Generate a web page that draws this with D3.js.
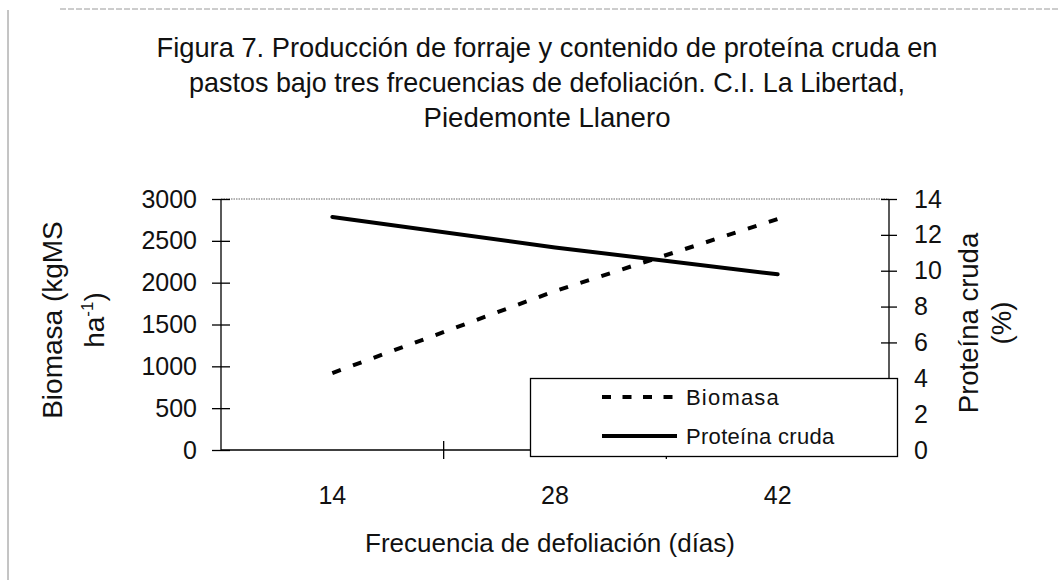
<!DOCTYPE html>
<html>
<head>
<meta charset="utf-8">
<script src="https://cdn.jsdelivr.net/npm/d3@7"></script>
<style>
  html, body { margin: 0; padding: 0; background: #fff; }
  svg { display: block; font-family: "Liberation Sans", Arial, sans-serif; }
</style>
</head>
<body>
<svg id="chart" width="1060" height="580"></svg>
<script>
// Defoliation frequency (days)
const categories = ["14", "28", "42"];
// Forage biomass (kg DM/ha)
const biomasa = [920, 1900, 2760];
// Crude protein (%)
const proteina = [13.0, 11.3, 9.8];
// Axis ticks
const leftTicks = [0, 500, 1000, 1500, 2000, 2500, 3000];
const rightTicks = [0, 2, 4, 6, 8, 10, 12, 14];
const titleLines = [
  "Figura 7. Producción de forraje y contenido de proteína cruda en",
  "pastos bajo tres frecuencias de defoliación. C.I. La Libertad,",
  "Piedemonte Llanero"
];

const svg = d3.select("#chart");
const plot = { left: 221, right: 889, top: 199, bottom: 450 };

const x = d3.scaleBand().domain(categories).range([plot.left, plot.right]).paddingInner(0).paddingOuter(0);
const yL = d3.scaleLinear().domain([0, 3000]).range([plot.bottom, plot.top]);
const yR = d3.scaleLinear().domain([0, 14]).range([plot.bottom, plot.top]);
const cx = c => x(c) + x.bandwidth() / 2;

// page frame
svg.append("line").attr("x1", 8).attr("x2", 8).attr("y1", 10).attr("y2", 580)
  .attr("stroke", "#8a8a8a").attr("stroke-width", 1);
svg.append("line").attr("x1", 60).attr("x2", 1060).attr("y1", 9).attr("y2", 9)
  .attr("stroke", "#9a9a9a").attr("stroke-width", 1).attr("stroke-dasharray", "6,2");

// title (condensed face)
const title = svg.append("g").attr("font-size", 28).attr("fill", "#111").attr("text-anchor", "middle");
const titleWidths = [781, 716, 247];
titleLines.forEach((t, i) => {
  title.append("text")
    .attr("x", 547).attr("y", 57 + i * 35)
    .attr("textLength", titleWidths[i]).attr("lengthAdjust", "spacingAndGlyphs")
    .text(t);
});

// top border of plot area
svg.append("line").attr("x1", plot.left).attr("x2", plot.right).attr("y1", plot.top).attr("y2", plot.top)
  .attr("stroke", "#666").attr("stroke-width", 1).attr("stroke-dasharray", "1.5,1");

// left axis
const gL = svg.append("g").attr("transform", `translate(${plot.left},0)`)
  .call(d3.axisLeft(yL).tickValues(leftTicks).tickSize(9).tickPadding(15).tickFormat(d3.format("d")));
gL.selectAll(".tick line").attr("x1", -9).attr("x2", 9);
gL.select(".domain").attr("d", `M0,${plot.top}V${plot.bottom}`);

// right axis
const gR = svg.append("g").attr("transform", `translate(${plot.right},0)`)
  .call(d3.axisRight(yR).tickValues(rightTicks).tickSize(8).tickPadding(17).tickFormat(d3.format("d")));
gR.selectAll(".tick line").attr("x1", -8).attr("x2", 8);
gR.select(".domain").attr("d", `M0,${plot.top}V${plot.bottom}`);

// bottom axis: labels at category centres, ticks between categories
const gB = svg.append("g").attr("transform", `translate(0,${plot.bottom})`)
  .call(d3.axisBottom(x).tickSize(0).tickPadding(36));
gB.select(".domain").attr("d", `M${plot.left},0H${plot.right}`);
gB.selectAll(".tickmark").data(categories.slice(1)).join("line")
  .attr("class", "tickmark")
  .attr("x1", d => x(d)).attr("x2", d => x(d)).attr("y1", -9).attr("y2", 9)
  .attr("stroke", "#000").attr("stroke-width", 1.3);

[gL, gR, gB].forEach(g => {
  g.attr("font-family", null).attr("font-size", null);
  g.selectAll("text").attr("font-size", 25).attr("fill", "#111");
  g.selectAll(".domain, .tick line").attr("stroke", "#000").attr("stroke-width", 1.3);
});

// series
const lineL = d3.line().x((d, i) => cx(categories[i])).y(d => yL(d));
const lineR = d3.line().x((d, i) => cx(categories[i])).y(d => yR(d));

svg.append("path").datum(proteina).attr("d", lineR)
  .attr("fill", "none").attr("stroke", "#000").attr("stroke-width", 4).attr("stroke-linecap", "round");
svg.append("path").datum(biomasa).attr("d", lineL)
  .attr("fill", "none").attr("stroke", "#000").attr("stroke-width", 4)
  .attr("stroke-dasharray", "9,13");

// legend
const lg = svg.append("g");
lg.append("rect").attr("x", 530.5).attr("y", 378.5).attr("width", 367).attr("height", 78)
  .attr("fill", "#fff").attr("stroke", "#000").attr("stroke-width", 1.3);
const items = [
  { name: "Biomasa", dash: "9,11.5" },
  { name: "Proteína cruda", dash: null }
];
items.forEach((it, i) => {
  const yy = 397 + i * 39;
  lg.append("line").attr("x1", 602).attr("x2", 677).attr("y1", yy).attr("y2", yy)
    .attr("stroke", "#000").attr("stroke-width", 4)
    .attr("stroke-dasharray", it.dash);
  lg.append("text").attr("x", 686).attr("y", yy + 7.5).attr("font-size", 22)
    .attr("letter-spacing", i === 0 ? 1.2 : 0.3).attr("fill", "#111").text(it.name);
});

// axis titles
const yTitleL = svg.append("g").attr("font-size", 28).attr("fill", "#111").attr("text-anchor", "middle")
  .attr("transform", "translate(0,320) rotate(-90)");
yTitleL.append("text").attr("x", 0).attr("y", 62).text("Biomasa (kgMS");
const ha = yTitleL.append("text").attr("x", 0).attr("y", 104);
ha.append("tspan").text("ha");
ha.append("tspan").attr("font-size", 17).attr("dy", -11).text("-1");
ha.append("tspan").attr("dy", 11).text(")");

const yTitleR = svg.append("g").attr("font-size", 27.5).attr("fill", "#111").attr("text-anchor", "middle")
  .attr("transform", "translate(0,323) rotate(-90)");
yTitleR.append("text").attr("x", 0).attr("y", 978).text("Proteína cruda");
yTitleR.append("text").attr("x", 0).attr("y", 1011).text("(%)");

svg.append("text").attr("x", 550).attr("y", 552).attr("font-size", 26).attr("fill", "#111")
  .attr("text-anchor", "middle").text("Frecuencia de defoliación (días)");
</script>
</body>
</html>
